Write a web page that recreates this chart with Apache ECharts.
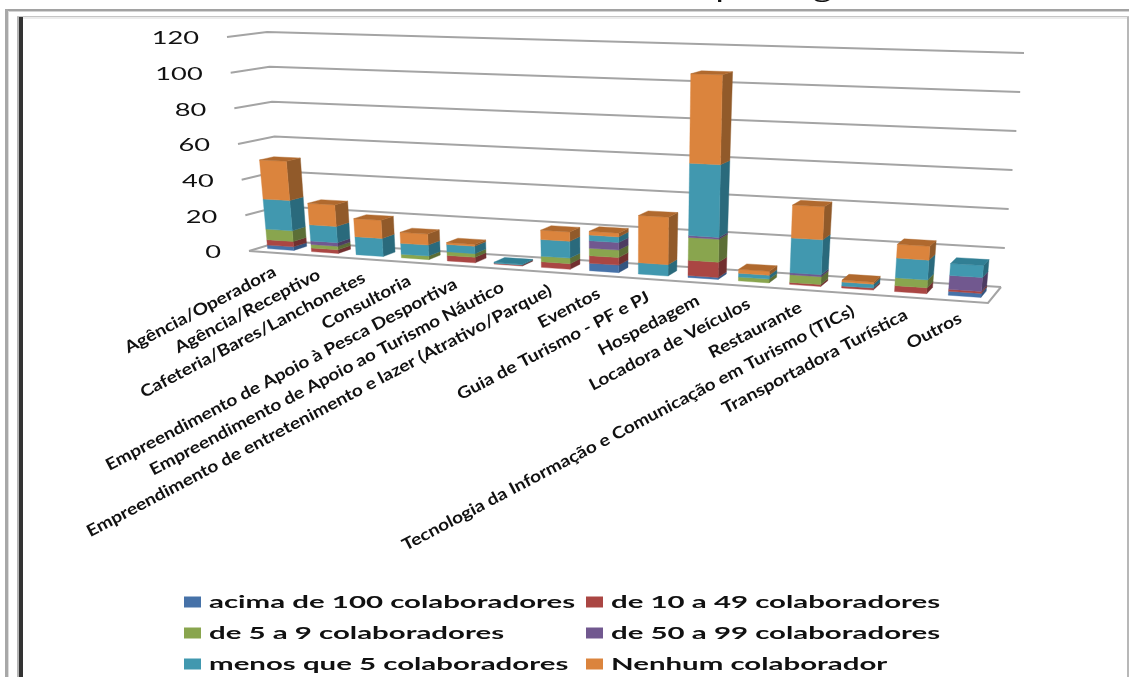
<!DOCTYPE html>
<html>
<head>
<meta charset="utf-8">
<style>html,body{margin:0;padding:0;background:#fff;overflow:hidden}#chart{width:1129px;height:677px}</style>
<script src="https://cdn.jsdelivr.net/npm/echarts@6/dist/echarts.min.js"></script>
</head>
<body>
<div id="chart"></div>
<script>
// Colaboradores por segmento: stacked columns drawn on a perspective floor and back wall.
const categories = ['Agência/Operadora','Agência/Receptivo','Cafeteria/Bares/Lanchonetes','Consultoria',
  'Empreendimento de Apoio à Pesca Desportiva','Empreendimento de Apoio ao Turismo Náutico',
  'Empreendimento de entretenimento e lazer (Atrativo/Parque)','Eventos','Guia de Turismo - PF e PJ',
  'Hospedagem','Locadora de Veículos','Restaurante','Tecnologia da Informação e Comunicação em Turismo (TICs)',
  'Transportadora Turística','Outros'];
const yTicks = [0,20,40,60,80,100,120];
const seriesNames = ['acima de 100 colaboradores','de 10 a 49 colaboradores','de 5 a 9 colaboradores',
  'de 50 a 99 colaboradores','menos que 5 colaboradores','Nenhum colaborador'];
const acima100 = [2,0,0,0,0,0,0,4,0,1,0,0,0,0,2];
const de10a49  = [3,2,0,0,3,0.5,3,4,0,8,0,1,1,3,1];
const de5a9    = [6,2,0,2,2,0,3,4,0,12,2,4,0,4,0];
const de50a99  = [0,2,0,0,0,0,0,4,0,1,0,1,0,0,7];
const menos5   = [17,9,10,6,4,0.5,9,3,6,38,2,18,2,10,6];
const nenhum   = [22,12,10,6,1,0,5,2,25,47,2,17,1,7,0];
const stacks = [acima100,de10a49,de5a9,de50a99,menos5,nenhum];
const frontColors = ['#4672a8','#aa4643','#89a54e','#71588f','#4198af','#db843d'];
const sideColors  = ['#335580','#723030','#5c6e36','#4d3c62','#2a6a7c','#915a2a'];
const topColors   = ['#3f6696','#964040','#78913f','#63507e','#317f94','#b0692e'];

// Corners of the drawn box: floor (value 0) and ceiling (value 120), front and back.
const box = {
  floor: {fl:[249,251], fr:[988,303], br:[1001,287], bl:[282,241]},
  ceil:  {fl:[227,37],  fr:[1006,61], br:[1024,53],  bl:[267,32]}
};
const perspective = 0.11;
const lerp = (a,b,t) => a + (b-a)*t;
const lerp2 = (p,q,t) => [lerp(p[0],q[0],t), lerp(p[1],q[1],t)];
function warp(u){ return (1-perspective)*u/(1-perspective*u); }
function onPlane(pl,u,d){
  const w = warp(u);
  return lerp2(lerp2(pl.fl,pl.fr,w), lerp2(pl.bl,pl.br,w), d);
}
// Converts a point of the flat cartesian grid plus a depth into the screen position.
function project(cs,px,py,d){
  const u = (px-cs.x)/cs.width, t = (cs.y+cs.height-py)/cs.height;
  return lerp2(onPlane(box.floor,u,d), onPlane(box.ceil,u,d), t);
}
const depthFront = 0.3, depthBack = 0.7, barFrac = 0.6;

function poly(points,fill){
  return {type:'polygon', shape:{points}, style:{fill, stroke:fill, lineWidth:0.4}};
}
function stackSeries(k){
  const data = categories.map((c,i)=>{
    let base = 0;
    for(let s=0;s<k;s++) base += stacks[s][i];
    let above = 0;
    for(let s=k+1;s<stacks.length;s++) above += stacks[s][i];
    return [i, base, base+stacks[k][i], above];
  });
  return {
    name: seriesNames[k], type:'custom', coordinateSystem:'cartesian2d', silent:true, z:3,
    itemStyle:{color:frontColors[k]},
    encode:{x:0,y:[1,2]},
    data,
    renderItem(params,api){
      const i = api.value(0), lo = api.value(1), hi = api.value(2), above = api.value(3);
      if(hi<=lo) return null;
      const cs = params.coordSys;
      const band = api.size([1,0])[0];
      const a = api.coord([i,lo]), b = api.coord([i,hi]);
      const xl = a[0]-band*barFrac/2, xr = a[0]+band*barFrac/2;
      const p = (x,y,d)=>project(cs,x,y,d);
      const children = [
        poly([p(xr,a[1],depthFront),p(xr,a[1],depthBack),p(xr,b[1],depthBack),p(xr,b[1],depthFront)],sideColors[k]),
        poly([p(xl,a[1],depthFront),p(xr,a[1],depthFront),p(xr,b[1],depthFront),p(xl,b[1],depthFront)],frontColors[k])
      ];
      if(above===0){
        children.push(poly([p(xl,b[1],depthFront),p(xr,b[1],depthFront),p(xr,b[1],depthBack),p(xl,b[1],depthBack)],topColors[k]));
      }
      return {type:'group',children};
    }
  };
}

const wallSeries = {
  type:'custom', coordinateSystem:'cartesian2d', silent:true, z:1,
  data: yTicks.map(v=>[0,v]),
  renderItem(params,api){
    const cs = params.coordSys, v = api.value(1), y = api.coord([0,v])[1];
    const left = cs.x, right = cs.x+cs.width;
    const line = {stroke:'#a4a4a4', lineWidth:2, fill:null};
    const children = [{type:'polyline', shape:{points:[project(cs,left,y,0),project(cs,left,y,1),project(cs,right,y,1)]}, style:line}];
    if(v===0){
      children.push({type:'polyline', shape:{points:[project(cs,left,y,0),project(cs,right,y,0),project(cs,right,y,1)]}, style:line});
    }
    const at = project(cs,left,y,0);
    children.push({type:'text', x:at[0]-28, y:at[1]+2, scaleX:1.6,
      style:{text:String(v), align:'right', verticalAlign:'middle', fill:'#111', fontSize:17, fontFamily:'Lato'}});
    return {type:'group',children};
  }
};

const labelSeries = {
  type:'custom', coordinateSystem:'cartesian2d', silent:true, z:4,
  data: categories.map((c,i)=>[i,0]),
  renderItem(params,api){
    const cs = params.coordSys, i = api.value(0), c = api.coord([i,0]);
    const at = project(cs,c[0],c[1],0);
    const u = (c[0]-cs.x)/cs.width;
    return {type:'text', x:at[0]+4-4*u, y:at[1]+18-2*u, rotation:0.484, scaleX:1.16,
      style:{text:categories[i], align:'right', verticalAlign:'middle', fill:'#111',
        fontSize:16.5, fontWeight:'bold', fontFamily:'Lato'}};
  }
};

// Legend rows sit in two fixed columns.
const legendCols = [184,586], legendRows = [602,633,664];
const legendItems = seriesNames.map((name,k)=>{
  const x = legendCols[k%2], y = legendRows[Math.floor(k/2)];
  return [
    {type:'rect', x, y:y-5.5, shape:{width:17,height:11}, style:{fill:frontColors[k]}},
    {type:'text', x:x+25, y:y+1, scaleX:1.73,
      style:{text:name, align:'left', verticalAlign:'middle', fill:'#111', fontSize:17, fontWeight:'bold', fontFamily:'Lato'}}
  ];
}).flat();
const rule = (x,y,w,h,fill)=>({type:'rect', x, y, shape:{width:w,height:h}, style:{fill}, z:0});
const frame = [
  rule(6,9,1123,2,'#a2a2a2'), rule(6,11,1123,1,'#d4d4d4'),
  rule(5,9,3,668,'#a8a8a8'), rule(8,11,1,666,'#dcdcdc'),
  rule(17,16,1112,1,'#c4c4c4'), rule(22,17,1105,2,'#ececec'),
  rule(19,17,4,660,'#333333'), rule(17,17,2,660,'#b5b5b5'),
  rule(1127,17,2,660,'#b8b8b8')
];
const titleText = {type:'text', x:477, y:2, scaleX:1.5,
  style:{text:'Colaboradores por segmento', align:'left', verticalAlign:'bottom', fill:'#111', fontSize:24, fontFamily:'Lato'}};

const chart = echarts.init(document.getElementById('chart'),null,{renderer:'canvas'});
chart.setOption({
  animation:false,
  backgroundColor:'#fff',
  grid:{left:0,top:0,width:1000,height:600},
  xAxis:{type:'category',data:categories,show:false},
  yAxis:{type:'value',min:0,max:120,interval:20,show:false},
  graphic:{elements:[...frame,titleText,...legendItems]},
  series:[wallSeries,...stacks.map((s,k)=>stackSeries(k)),labelSeries]
});
</script>
</body>
</html>
